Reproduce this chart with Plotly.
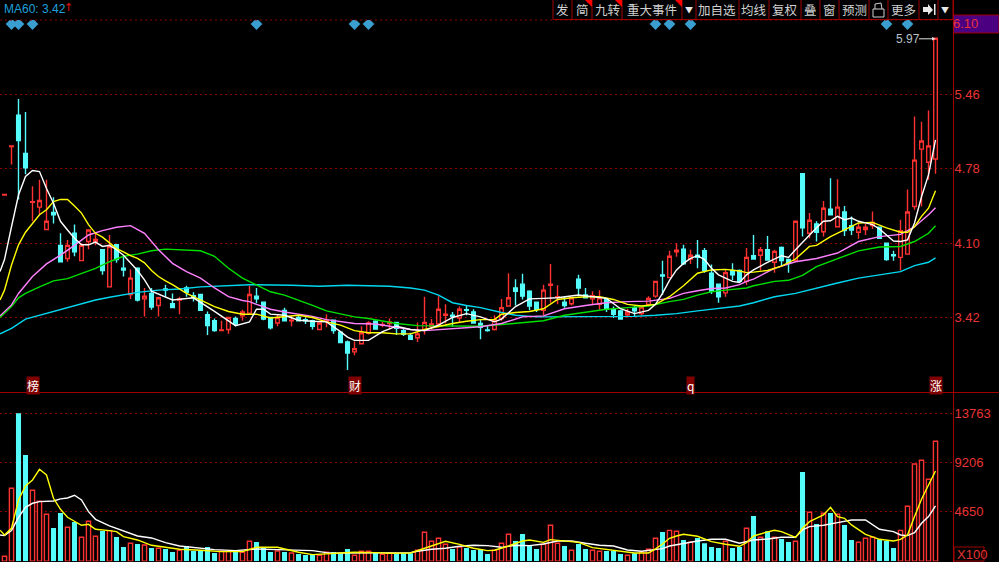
import plotly.graph_objects as go

W, H = 999, 562

# ---------- data ----------
price_open = [4.54,4.985,5.27,4.92,4.475,4.43,4.225,4.38,4.08,3.96,4.19,3.94,4.115,4.115,4.04,3.70,4.085,3.87,3.63,3.87,
3.59,3.64,3.53,3.68,3.545,3.58,3.69,3.62,3.63,3.445,3.39,3.30,3.31,3.41,3.435,3.46,
3.615,3.56,3.42,3.37,3.485,3.39,3.42,3.40,3.39,3.31,3.385,3.395,3.285,3.195,3.105,3.18,3.275,3.385,3.35,3.365,3.375,3.30,3.255,3.235,
3.31,3.34,3.36,3.44,3.44,3.415,3.49,3.47,3.365,3.305,3.31,3.41,3.525,3.69,3.725,3.66,3.56,3.485,3.715,3.605,3.56,3.545,3.77,3.625,3.59,3.54,
3.59,3.49,3.48,3.445,3.51,3.455,3.54,3.615,3.81,3.785,4.02,4.045,3.955,3.99,4.03,3.825,3.725,3.645,3.85,3.85,3.75,
3.985,3.99,4.04,3.925,4.06,3.95,3.94,4.735,4.19,4.275,4.205,4.41,4.25,4.385,4.26,4.20,4.225,4.26,4.245,4.10,3.995,3.97,4.00,4.435,4.96,4.84,4.87]
price_close = [4.545,4.99,5.04,4.79,4.48,4.49,4.30,4.36,3.93,4.08,4.02,4.08,4.22,4.135,3.85,4.07,3.95,3.855,3.78,3.58,
3.615,3.515,3.60,3.67,3.51,3.59,3.65,3.605,3.485,3.345,3.30,3.305,3.42,3.36,3.47,3.63,
3.59,3.405,3.325,3.42,3.39,3.395,3.39,3.39,3.34,3.37,3.395,3.30,3.19,3.095,3.135,3.28,3.37,3.315,3.355,3.38,3.32,3.265,3.22,3.27,
3.375,3.36,3.495,3.45,3.43,3.495,3.485,3.37,3.33,3.30,3.40,3.51,3.60,3.66,3.615,3.525,3.495,3.67,3.725,3.61,3.53,3.60,3.69,3.60,3.62,3.60,
3.495,3.45,3.405,3.47,3.48,3.515,3.595,3.75,3.80,3.98,4.035,3.91,3.99,3.97,3.85,3.66,3.61,3.83,3.81,3.75,3.97,
3.955,4.04,3.945,4.025,3.94,3.915,4.30,4.24,4.31,4.20,4.42,4.36,4.43,4.215,4.22,4.245,4.245,4.29,4.145,3.95,3.985,4.215,4.385,4.86,5.035,4.99,5.975]
price_high = [4.545,4.99,5.42,5.30,4.62,4.68,4.68,4.52,4.19,4.13,4.27,4.10,4.22,4.19,4.045,4.175,4.09,3.98,3.86,3.88,
3.69,3.69,3.61,3.72,3.64,3.61,3.71,3.65,3.63,3.475,3.41,3.39,3.42,3.43,3.49,3.71,
3.69,3.565,3.42,3.45,3.51,3.44,3.44,3.42,3.40,3.37,3.45,3.40,3.285,3.21,3.20,3.34,3.385,3.395,3.38,3.41,3.375,3.325,3.28,3.375,
3.61,3.405,3.615,3.54,3.47,3.52,3.53,3.495,3.40,3.35,3.44,3.59,3.825,3.77,3.82,3.67,3.565,3.72,3.91,3.715,3.61,3.61,3.81,3.69,3.66,3.67,
3.595,3.52,3.49,3.50,3.525,3.52,3.615,3.75,3.94,4.03,4.10,4.085,4.04,4.13,4.055,3.905,3.73,3.855,3.915,3.86,4.055,
4.175,4.065,4.165,4.04,4.07,3.955,4.30,4.735,4.375,4.30,4.485,4.695,4.685,4.44,4.345,4.28,4.275,4.39,4.25,4.105,4.03,4.315,4.59,5.26,5.21,5.315,5.975]
price_low = [4.54,4.82,4.50,4.73,4.30,4.36,4.225,4.28,3.93,3.93,3.98,3.94,4.045,4.08,3.81,3.70,3.92,3.795,3.59,3.565,
3.43,3.49,3.43,3.61,3.51,3.45,3.61,3.565,3.485,3.26,3.29,3.30,3.27,3.34,3.39,3.46,
3.55,3.395,3.31,3.34,3.39,3.34,3.385,3.36,3.31,3.31,3.33,3.27,3.19,2.94,3.075,3.18,3.265,3.31,3.33,3.31,3.26,3.25,3.22,3.195,
3.265,3.31,3.33,3.365,3.335,3.375,3.44,3.365,3.22,3.29,3.30,3.39,3.525,3.53,3.585,3.485,3.47,3.44,3.555,3.54,3.51,3.53,3.615,3.60,3.54,3.49,
3.47,3.415,3.405,3.42,3.425,3.44,3.52,3.60,3.625,3.78,3.975,3.90,3.91,3.87,3.83,3.635,3.555,3.61,3.76,3.74,3.72,
3.955,3.85,3.94,3.83,3.89,3.83,3.94,4.16,4.145,4.115,4.16,4.36,4.25,4.165,4.175,4.14,4.175,4.23,4.14,3.94,3.94,3.85,4.00,4.405,4.435,4.68,4.735]
volume = [465,6790,13764,9890,6600,5580,4370,3100,4495,3160,3660,2230,3720,2325,2820,2850,2260,1330,1675,1610,
1520,1240,1210,1150,870,1020,1425,960,990,1330,775,930,930,930,835,1860,1800,1330,870,960,870,775,680,590,680,560,835,870,
680,1150,560,930,930,805,650,745,715,745,745,1025,2700,1860,2140,1580,1150,1335,1240,1055,1115,680,1025,1675,2510,1890,2540,
1455,1150,1580,3350,1675,1425,1025,1610,1150,1025,930,960,990,680,560,745,835,1115,2140,2730,
2880,2790,1985,1770,2170,1675,1330,1240,1860,1240,1330,3070,4215,2230,2790,2230,2075,1800,1860,8310,4555,3470,4465,4495,4370,3380,
1985,1770,2140,2230,2045,1890,1240,2880,5115,9050,9390,7625,11160]

ma5 = [(-0.64,3.84),(0,3.95),(1,4.25),(2,4.54),(3,4.71),(4,4.765),(5,4.755),(6,4.60),(7,4.465),(8,4.30),(9,4.22),(10,4.145),(11,4.085),(12,4.085),(13,4.11),(14,4.07),(15,4.08),(16,4.04),(17,3.99),(18,3.92),(19,3.85),(20,3.765),(21,3.66),(24,3.58),(27,3.60),(30,3.475),(33,3.345),(35,3.38),
(36,3.495),(37,3.495),(38,3.45),(40,3.44),(42,3.395),(44,3.385),(46,3.38),(48,3.29),(49,3.24),(50,3.21),(52,3.21),(54,3.29),(56,3.34),(58,3.31),(60,3.30),(62,3.35),(64,3.42),(66,3.455),(68,3.425),(70,3.38),
(71,3.405),(73,3.52),(75,3.59),(77,3.595),(79,3.60),(82,3.625),(84,3.61),(86,3.595),(88,3.50),(90,3.455),(92,3.485),(93,3.54),(94,3.64),(95,3.76),(96,3.855),(97,3.915),(98,3.96),(99,3.985),(100,3.95),(101,3.87),(102,3.81),(103,3.78),(104,3.75),(105,3.74),(106,3.81),
(107,3.855),(109,3.925),(111,3.985),(112,3.97),(113,4.04),(114,4.11),(115,4.175),(116,4.24),(117,4.30),(118,4.305),(119,4.345),(120,4.315),(121,4.33),(122,4.30),(123,4.285),(124,4.27),(125,4.23),(126,4.175),(127,4.12),(128,4.115),(129,4.13),(130,4.285),(131,4.525),(132,4.725),(133,5.045)]
ma10 = [(-0.64,3.58),(0,3.67),(1,3.90),(2,4.085),(3,4.20),(4,4.28),(5,4.36),(6,4.405),(7,4.48),(8,4.50),(9,4.50),(10,4.44),(11,4.375),(12,4.27),(13,4.19),(14,4.155),(15,4.10),(16,4.05),(17,4.02),(18,3.985),(19,3.96),(20,3.92),(21,3.85),(22,3.795),(23,3.755),(24,3.72),(26,3.64),(28,3.58),(30,3.52),(32,3.475),(34,3.45),(35,3.45),
(36,3.45),(38,3.415),(40,3.43),(42,3.44),(44,3.42),(46,3.38),(48,3.35),(50,3.30),(52,3.28),(54,3.28),(56,3.27),(58,3.27),(60,3.31),(62,3.34),(64,3.365),(66,3.385),(68,3.40),(70,3.40),
(71,3.45),(73,3.465),(75,3.475),(77,3.50),(79,3.585),(81,3.60),(83,3.61),(85,3.61),(87,3.585),(89,3.54),(91,3.525),(93,3.54),(95,3.61),(97,3.71),(99,3.825),(101,3.855),(103,3.86),(105,3.845),(106,3.83),
(107,3.835),(109,3.85),(111,3.89),(113,3.955),(115,4.07),(116,4.08),(118,4.16),(120,4.22),(122,4.285),(124,4.29),(126,4.24),(128,4.20),(129,4.20),(130,4.25),(131,4.345),(132,4.42),(133,4.58)]
ma20 = [(-0.64,3.435),(1,3.535),(2,3.64),(3,3.72),(4,3.795),(6,3.91),(8,3.99),(10,4.08),(12,4.175),(14,4.215),(16,4.245),(18,4.26),(20,4.19),(22,4.04),(24,3.915),(26,3.84),(28,3.78),(30,3.69),(32,3.61),(34,3.575),(35,3.565),
(36,3.54),(38,3.495),(40,3.47),(42,3.45),(44,3.43),(46,3.40),(48,3.38),(50,3.365),(53,3.36),(56,3.33),(58,3.31),(60,3.30),(62,3.31),(65,3.32),(68,3.335),(71,3.365),
(74,3.425),(77,3.435),(80,3.50),(83,3.53),(86,3.555),(89,3.565),(92,3.57),(95,3.595),(97,3.64),(99,3.665),(101,3.685),(103,3.69),(105,3.72),(106,3.75),
(107,3.77),(110,3.87),(113,3.93),(116,3.96),(119,4.01),(122,4.115),(125,4.16),(128,4.18),(130,4.25),(132,4.36),(133,4.425)]
ma30 = [(-0.64,3.42),(1,3.52),(2,3.60),(3,3.64),(5,3.70),(7,3.755),(9,3.775),(11,3.825),(13,3.87),(15,3.93),(17,3.98),(19,4.00),(21,4.03),(23,4.045),(26,4.04),(28,4.03),(30,3.98),(32,3.87),(34,3.78),(35,3.75),
(36,3.72),(38,3.655),(40,3.625),(42,3.58),(44,3.53),(46,3.48),(48,3.45),(50,3.425),(52,3.41),(54,3.385),(56,3.365),(59,3.345),(62,3.345),(65,3.34),(68,3.34),(71,3.355),
(74,3.375),(77,3.39),(80,3.44),(83,3.465),(86,3.495),(89,3.51),(92,3.525),(95,3.565),(97,3.585),(99,3.625),(101,3.655),(103,3.67),(106,3.69),
(107,3.71),(110,3.75),(112,3.76),(114,3.805),(116,3.885),(119,3.96),(122,4.03),(125,4.065),(128,4.07),(130,4.115),(132,4.19),(133,4.26)]
ma60 = [(-0.64,3.27),(1,3.32),(3,3.405),(5,3.44),(7,3.48),(9,3.51),(11,3.545),(13,3.58),(15,3.605),(17,3.63),(19,3.65),(22,3.67),(25,3.68),(28,3.70),(31,3.71),(35,3.72),
(41,3.715),(45,3.705),(49,3.715),(55,3.705),(58,3.69),(60,3.67),(62,3.625),(64,3.555),(66,3.53),(68,3.51),(71,3.465),
(73,3.44),(76,3.425),(80,3.425),(85,3.425),(90,3.43),(93,3.44),(96,3.455),(99,3.48),(102,3.505),(105,3.525),
(107,3.555),(110,3.61),(113,3.64),(116,3.69),(119,3.735),(122,3.78),(125,3.81),(128,3.84),(130,3.895),(132,3.925),(133,3.965)]

vol_ma5 = [(-0.64,2900),(0,2450),(1,3070),(2,5700),(3,7000),(4,7560),(5,8555),(6,8030),(7,5860),(8,4835),(9,4090),(10,3690),(11,3350),(12,3440),(13,2975),(15,2850),(16,2760),(17,2295),(19,1985),(21,1490),(23,1330),(25,1115),(28,1025),(31,900),(34,900),(36,1300),(39,1300),(42,840),(44,620),(47,715),
(48,805),(50,835),(53,805),(55,745),(58,775),(60,1210),(62,1675),(63,1860),(65,1580),(67,1210),(69,990),(70,1025),(72,1425),(74,1890),(75,1985),(77,1765),(78,2015),(80,1860),(82,1765),(84,1270),(86,1115),(88,900),(90,775),(92,775),(93,1150),(94,1610),
(95,2140),(96,2355),(97,2510),(99,2325),(101,1830),(103,1580),(105,1395),(106,1735),(107,2355),(109,2730),(110,2880),(111,2760),(113,2230),(114,3070),(115,3690),(117,4310),(118,5020),(119,4155),(120,4000),(121,3380),(123,2510),(125,2045),(127,1890),(128,2045),(129,2450),(130,4155),(131,5770),(132,7100),(133,8400)]
vol_ma10 = [(-0.64,2450),(0,2390),(1,2850),(2,4090),(3,5020),(4,5395),(5,5550),(7,5610),(8,5800),(9,5890),(10,6140),(11,5700),(12,4620),(13,3905),(15,3285),(17,2850),(19,2355),(21,2170),(23,1735),(25,1425),(27,1300),(30,1085),(33,990),(36,1150),(39,1085),(42,1025),(44,990),(46,805),(47,745),
(48,775),(53,805),(58,805),(59,930),(61,1115),(63,1210),(65,1395),(67,1490),(69,1455),(71,1300),(73,1490),(75,1455),(77,1610),(79,1890),(81,1890),(83,1675),(85,1490),(87,1425),(89,1055),(91,930),(93,1055),(94,1180),
(95,1425),(97,1675),(99,1890),(101,2045),(103,2045),(105,1675),(107,1985),(109,2075),(111,2230),(113,2230),(114,2915),(115,3225),(117,3350),(119,3600),(121,3845),(123,3845),(125,2975),(127,2760),(128,2450),(129,2390),(130,2665),(131,3535),(132,4155),(133,5145)]

price_ticks = [5.46, 4.78, 4.10, 3.42]
volume_ticks = [13763, 9206, 4650]
signal_days = [1, 2, 4, 36, 50, 52, 93, 95, 98, 126, 129]
note_days = [4, 50, 98, 133]
note_texts = ["榜", "财", "q", "涨"]
toolbar_labels = ["发", "简", "九转", "重大事件", "▼", "加自选", "均线", "复权", "叠", "窗", "预测", "", "更多", "", "▼"]

# ---------- styles ----------
RED = "#ff3232"
LABEL_RED = "#e83434"
CYAN = "#54fcfc"
GRID = "#8c0000"
BORDER = "#a00000"
LATIN = "Liberation Sans"
CJK = "Noto Sans CJK SC"
PANE_X = 953.5 / W
LINE_W = 1.4

def px(x):
    return x / W

def py(y):
    return 1 - y / H

n = len(price_open)
days = list(range(n))
is_up = [c >= o for o, c in zip(price_open, price_close)]

fig = go.Figure()

fig.add_trace(go.Candlestick(
    x=days, open=price_open, high=price_high, low=price_low, close=price_close,
    whiskerwidth=0,
    increasing=dict(line=dict(color=RED, width=LINE_W), fillcolor="#000000"),
    decreasing=dict(line=dict(color=CYAN, width=LINE_W), fillcolor=CYAN),
    xaxis="x", yaxis="y"))

for d_series, color in [(ma60, "#00d8f0"), (ma30, "#00e000"), (ma20, "#ff80ff"), (ma10, "#ffff00"), (ma5, "#ffffff")]:
    fig.add_trace(go.Scatter(x=[p[0] for p in d_series], y=[p[1] for p in d_series], mode="lines",
                             line=dict(color=color, width=LINE_W), xaxis="x", yaxis="y", hoverinfo="skip"))

fig.add_trace(go.Scatter(x=signal_days, y=[6.105] * len(signal_days), mode="markers",
                         marker=dict(symbol="diamond", size=9, color="#3a9fd0"),
                         xaxis="x", yaxis="y", hoverinfo="skip"))

fig.add_trace(go.Bar(x=[d for d in days if is_up[d]], y=[volume[d] for d in days if is_up[d]], width=0.6,
                     marker=dict(color="#000000", line=dict(color=RED, width=LINE_W)), xaxis="x", yaxis="y2"))
fig.add_trace(go.Bar(x=[d for d in days if not is_up[d]], y=[volume[d] for d in days if not is_up[d]], width=0.72,
                     marker=dict(color=CYAN, line=dict(width=0)), xaxis="x", yaxis="y2"))
for d_series, color in [(vol_ma10, "#ffffff"), (vol_ma5, "#ffff00")]:
    fig.add_trace(go.Scatter(x=[p[0] for p in d_series], y=[p[1] for p in d_series], mode="lines",
                             line=dict(color=color, width=LINE_W), xaxis="x", yaxis="y2", hoverinfo="skip"))

shapes = [
    dict(type="line", xref="paper", yref="paper", x0=0, x1=PANE_X, y0=py(20), y1=py(20),
         line=dict(color=GRID, width=1, dash="2px,3px")),
    dict(type="line", xref="paper", yref="paper", x0=0, x1=1, y0=py(392.5), y1=py(392.5),
         line=dict(color=BORDER, width=1)),
    dict(type="line", xref="paper", yref="paper", x0=PANE_X, x1=PANE_X, y0=0, y1=1,
         line=dict(color=BORDER, width=1)),
]

# toolbar
edges = [553, 572, 592, 622, 682, 696, 739, 769, 801, 820, 839, 869, 888, 919, 938, 953]
shapes.append(dict(type="line", xref="paper", yref="paper", x0=px(553), x1=px(953), y0=py(19.5), y1=py(19.5),
                   line=dict(color=BORDER, width=1)))
for e in edges:
    shapes.append(dict(type="line", xref="paper", yref="paper", x0=px(e), x1=px(e), y0=py(0), y1=py(19.5),
                       line=dict(color=BORDER, width=1)))
for right in [592, 622, 682]:
    shapes.append(dict(type="path", xref="paper", yref="paper", fillcolor="#ff0000", line=dict(width=0),
                       path=f"M {px(right-7)} {py(0)} L {px(right)} {py(0)} L {px(right)} {py(7)} Z"))
# padlock
shapes.append(dict(type="rect", xref="paper", yref="paper", x0=px(873), x1=px(884), y0=py(17), y1=py(9),
                   line=dict(color="#d0d0d0", width=1), fillcolor="#000000"))
shapes.append(dict(type="path", xref="paper", yref="paper", line=dict(color="#d0d0d0", width=1),
                   path=f"M {px(875)} {py(9)} L {px(875)} {py(4)} L {px(881)} {py(3)} L {px(882)} {py(9)}"))
# jump-to-end glyph
shapes.append(dict(type="path", xref="paper", yref="paper", fillcolor="#e8e8e8", line=dict(width=0),
                   path=(f"M {px(923)} {py(7)} L {px(928)} {py(7)} L {px(928)} {py(4)} L {px(933)} {py(10)} "
                         f"L {px(928)} {py(15)} L {px(928)} {py(12)} L {px(923)} {py(12)} Z")))
shapes.append(dict(type="rect", xref="paper", yref="paper", x0=px(934), x1=px(935.5), y0=py(15), y1=py(4),
                   fillcolor="#e8e8e8", line=dict(width=0)))
# purple price tag and X100 box
shapes.append(dict(type="rect", xref="paper", yref="paper", x0=px(953.5), x1=1, y0=py(33), y1=py(15),
                   fillcolor="#4b0082", line=dict(color=BORDER, width=1), layer="below"))
shapes.append(dict(type="rect", xref="paper", yref="paper", x0=px(954), x1=px(984), y0=py(561), y1=py(547),
                   fillcolor="#000000", line=dict(color=BORDER, width=1)))

ann = []
def label(x, y, text, color, size, font=LATIN, xanchor="center", bg=None, xref="paper", pad=0):
    ann.append(dict(x=x, y=py(y), xref=xref, yref="paper", text=text, showarrow=False, xanchor=xanchor,
                    yanchor="middle", font=dict(family=font, size=size, color=color), bgcolor=bg,
                    borderpad=pad))

label(px(3), 9, "MA60: 3.42", "#1fa0dc", 12, xanchor="left")
label(px(68), 8, "↑", "#e01010", 11, font="DejaVu Sans")
label(px(979), 24, "6.10", LABEL_RED, 13, xanchor="right")
label(px(956), 554, "X100", LABEL_RED, 13, xanchor="left")
label(px(921), 38.5, "5.97", "#b8c0c8", 12, xanchor="right")

centers = [562, 582, 607, 652, 689, 717, 754, 785, 810, 829, 854, 878, 903, 929, 945]
for c, t in zip(centers, toolbar_labels):
    if t:
        label(px(c), 9.5, t, "#d0d0d0" if t != "▼" else "#e8e8e8", 12.5 if t != "▼" else 8, font=CJK)

for d, t in zip(note_days, note_texts):
    label(d, 385, t, "#ffffff", 12, font=CJK, bg="#800000", xref="x", pad=0)

ann.append(dict(x=133, y=5.97, xref="x", yref="y", text="", ax=-18, ay=0, showarrow=True, arrowhead=2,
                arrowsize=0.7, arrowwidth=1, arrowcolor="#e0e0e0"))

price_top = 6.142
price_bottom = 2.738
fig.update_layout(
    width=W, height=H, margin=dict(l=0, r=0, t=0, b=0),
    paper_bgcolor="#000000", plot_bgcolor="#000000",
    showlegend=False, barmode="overlay", boxgap=0.25, hovermode=False,
    shapes=shapes, annotations=ann,
    xaxis=dict(domain=[0, PANE_X], range=[-0.643, 135.57], anchor="y2", visible=False,
               rangeslider=dict(visible=False), showgrid=False, zeroline=False),
    yaxis=dict(domain=[py(392), py(20)], range=[price_bottom, price_top], side="right", anchor="x",
               tickmode="array", tickvals=price_ticks, ticktext=["5.46", "4.78", "4.10", "3.42"],
               tickfont=dict(family=LATIN, size=13, color=LABEL_RED), showline=False, ticks="",
               showgrid=True, gridcolor=GRID, griddash="2px,3px", gridwidth=1, zeroline=False),
    yaxis2=dict(domain=[py(561.3), py(393)], range=[0, 15650], side="right", anchor="x",
                tickmode="array", tickvals=volume_ticks, ticktext=["13763", "9206", "4650"],
                tickfont=dict(family=LATIN, size=13, color=LABEL_RED), showline=False, ticks="",
                showgrid=True, gridcolor=GRID, griddash="2px,3px", gridwidth=1, zeroline=False),
)

fig.write_html("out.html", config=dict(displayModeBar=False),
               post_script="document.body.style.margin='0';document.body.style.background='#000';")
